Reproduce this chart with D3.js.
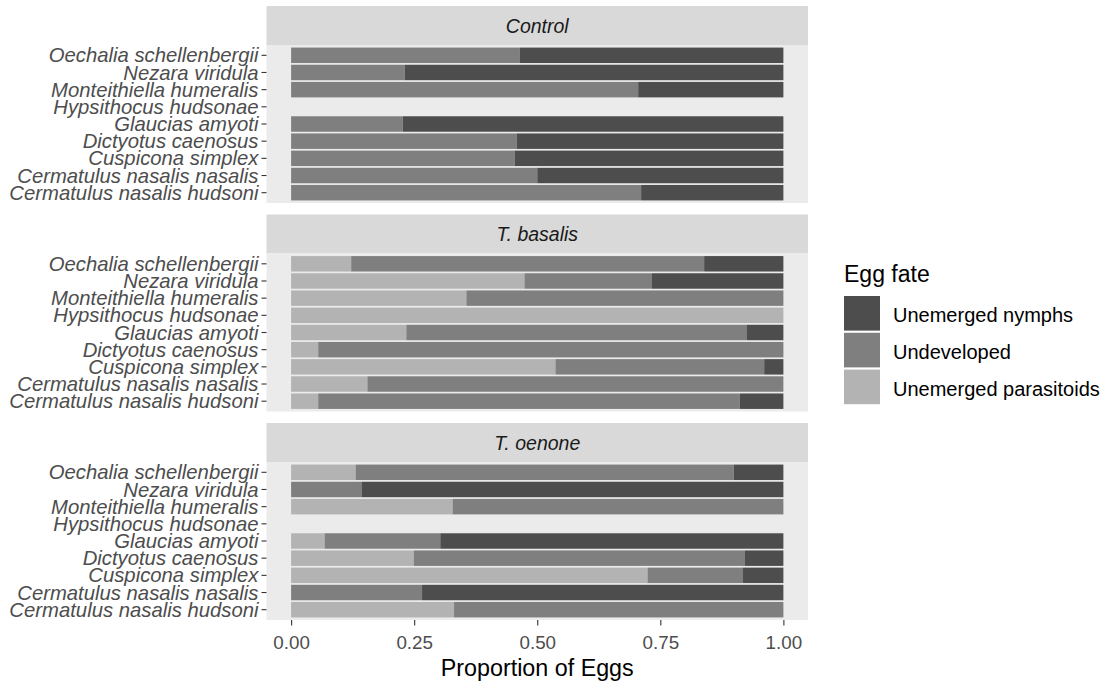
<!DOCTYPE html>
<html>
<head>
<meta charset="utf-8">
<script src="https://cdn.jsdelivr.net/npm/d3@7"></script>
<style>
  body { margin: 0; background: #fff; }
  svg text { font-family: "Liberation Sans", Arial, sans-serif; }
</style>
</head>
<body>
<svg id="chart" width="1107" height="685"></svg>
<script>
// species, top to bottom
const species = [
  'Oechalia schellenbergii', 'Nezara viridula', 'Monteithiella humeralis',
  'Hypsithocus hudsonae', 'Glaucias amyoti', 'Dictyotus caenosus',
  'Cuspicona simplex', 'Cermatulus nasalis nasalis', 'Cermatulus nasalis hudsoni'
];
const treatments = ['Control', 'T. basalis', 'T. oenone'];
const fates = ['Unemerged parasitoids', 'Undeveloped', 'Unemerged nymphs'];
const fateColors = ['#B3B3B3', '#7F7F7F', '#4D4D4D'];
const xTicks = [0, 0.25, 0.5, 0.75, 1];

// proportions per species (same order as species)
const controlParasitoids = [0, 0, 0, 0, 0, 0, 0, 0, 0];
const controlUndeveloped = [0.464, 0.231, 0.705, 0, 0.227, 0.458, 0.454, 0.500, 0.711];
const controlNymphs      = [0.536, 0.769, 0.295, 0, 0.773, 0.542, 0.546, 0.500, 0.289];

const basalisParasitoids = [0.122, 0.474, 0.356, 1.000, 0.234, 0.055, 0.537, 0.155, 0.055];
const basalisUndeveloped = [0.717, 0.258, 0.644, 0, 0.691, 0.945, 0.424, 0.845, 0.856];
const basalisNymphs      = [0.161, 0.268, 0, 0, 0.075, 0, 0.039, 0, 0.089];

const oenoneParasitoids = [0.131, 0, 0.328, 0, 0.068, 0.249, 0.724, 0, 0.331];
const oenoneUndeveloped = [0.768, 0.144, 0.672, 0, 0.235, 0.672, 0.194, 0.266, 0.669];
const oenoneNymphs      = [0.101, 0.856, 0, 0, 0.697, 0.079, 0.082, 0.734, 0];

const panelValues = [
  [controlParasitoids, controlUndeveloped, controlNymphs],
  [basalisParasitoids, basalisUndeveloped, basalisNymphs],
  [oenoneParasitoids, oenoneUndeveloped, oenoneNymphs]
];

const svg = d3.select('#chart');

// layout
const panelLeft = 266.5, panelRight = 808;
const firstTop = 6, stripH = 39, bodyH = 158, gap = 11.5;

const x = d3.scaleLinear().domain([-0.05, 1.05]).range([panelLeft, panelRight]);
const stack = d3.stack().keys([0, 1, 2]);

treatments.forEach((t, k) => {
  const top = firstTop + k * (stripH + bodyH + gap);
  const bodyTop = top + stripH;
  const g = svg.append('g');

  // strip
  g.append('rect')
    .attr('x', panelLeft).attr('y', top)
    .attr('width', panelRight - panelLeft).attr('height', stripH)
    .attr('fill', '#D9D9D9');
  g.append('text')
    .attr('x', (panelLeft + panelRight) / 2).attr('y', top + stripH / 2 + 7)
    .attr('text-anchor', 'middle')
    .attr('font-size', 19.5).attr('font-style', 'italic')
    .attr('fill', '#1A1A1A')
    .text(t);

  // panel background
  g.append('rect')
    .attr('x', panelLeft).attr('y', bodyTop)
    .attr('width', panelRight - panelLeft).attr('height', bodyH)
    .attr('fill', '#EBEBEB');

  const y = d3.scaleBand()
    .domain(species)
    .range([bodyTop, bodyTop + bodyH])
    .paddingInner(0.1).paddingOuter(0.15);

  const rows = species.map((s, i) => {
    const r = { species: s };
    panelValues[k].forEach((arr, f) => { r[f] = arr[i]; });
    return r;
  });
  const series = stack(rows);

  series.forEach((ser, f) => {
    g.append('g').selectAll('rect')
      .data(ser.filter(d => d[1] - d[0] > 0))
      .join('rect')
      .attr('x', d => x(d[0]))
      .attr('y', d => y(d.data.species))
      .attr('width', d => x(d[1]) - x(d[0]))
      .attr('height', y.bandwidth())
      .attr('fill', fateColors[f]);
  });

  // y axis
  const yAxis = g.append('g')
    .attr('transform', `translate(${panelLeft},0)`)
    .call(d3.axisLeft(y).tickSize(5).tickPadding(3));
  yAxis.select('.domain').remove();
  yAxis.selectAll('.tick line').attr('stroke', '#333333').attr('stroke-width', 1.1);
  yAxis.selectAll('.tick text')
    .attr('fill', '#4D4D4D')
    .attr('font-size', 20.3)
    .attr('font-style', 'italic')
    .attr('font-family', '"Liberation Sans", Arial, sans-serif')
    .attr('dy', '0.35em');

  if (k === treatments.length - 1) {
    const xAxis = g.append('g')
      .attr('transform', `translate(0,${bodyTop + bodyH})`)
      .call(d3.axisBottom(x).tickValues(xTicks).tickFormat(d3.format('.2f')).tickSize(5.5).tickPadding(3));
    xAxis.select('.domain').remove();
    xAxis.selectAll('.tick line').attr('stroke', '#333333').attr('stroke-width', 1.1);
    xAxis.selectAll('.tick text')
      .attr('fill', '#4D4D4D')
      .attr('font-size', 18.8)
      .attr('font-family', '"Liberation Sans", Arial, sans-serif')
      .attr('y', 0).attr('dy', 0)
      .attr('transform', 'translate(0,29)');

    svg.append('text')
      .attr('x', (panelLeft + panelRight) / 2).attr('y', 676)
      .attr('text-anchor', 'middle')
      .attr('font-size', 23.3)
      .attr('fill', '#000')
      .text('Proportion of Eggs');
  }
});

// legend
const legend = svg.append('g');
legend.append('text')
  .attr('x', 844).attr('y', 282)
  .attr('font-size', 23)
  .attr('fill', '#000')
  .text('Egg fate');

const legendOrder = [2, 1, 0];
legendOrder.forEach((f, i) => {
  const ky = 296 + i * 36.8;
  legend.append('rect')
    .attr('x', 844).attr('y', ky)
    .attr('width', 36).attr('height', 34.6)
    .attr('fill', fateColors[f]);
  legend.append('text')
    .attr('x', 893).attr('y', ky + 17.3 + 9)
    .attr('font-size', 20)
    .attr('fill', '#000')
    .text(fates[f]);
});
</script>
</body>
</html>
